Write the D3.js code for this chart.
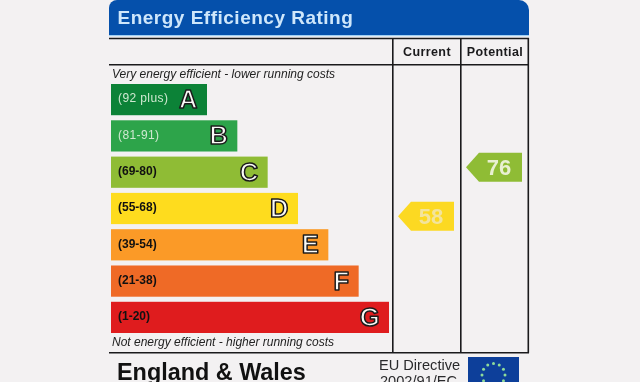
<!DOCTYPE html>
<html>
<head>
<meta charset="utf-8">
<script src="https://cdn.jsdelivr.net/npm/d3@7"></script>
<style>
html, body { margin: 0; padding: 0; background: #f3f1f2; overflow: hidden; }
text { font-family: "Liberation Sans", Arial, sans-serif; }
svg { filter: blur(0.35px); }
</style>
</head>
<body>
<div id="chart"></div>
<script>
var bands = ['A', 'B', 'C', 'D', 'E', 'F', 'G'];
var ranges = ['(92 plus)', '(81-91)', '(69-80)', '(55-68)', '(39-54)', '(21-38)', '(1-20)'];
var bandColors = ['#0c8237', '#2da44a', '#8fbc35', '#fedc1e', '#fb9a27', '#ef6a26', '#df1c1e'];
var rangeColors = ['#cfe8d0', '#cfe8d0', '#111', '#111', '#111', '#111', '#111'];
var columns = ['Current', 'Potential'];
var ratings = [58, 76];
var ratingColors = ['#fcd922', '#8fbc35'];
var ratingText = ['#f3e49c', '#e9f0d2'];

var width = 640, height = 382;

var svg = d3.select('#chart').append('svg')
    .attr('width', width)
    .attr('height', height)
    .style('display', 'block');

// scales
var y = d3.scaleBand().domain(bands).range([84, 333]).paddingInner(0.14).paddingOuter(0);
var barWidth = d3.scaleLinear().domain([0, bands.length - 1]).range([96, 278]);
var ratingY = d3.scaleLinear().domain([100, 0]).range([102, 374]);
var colX = d3.scaleBand().domain(columns).range([393, 529]);

///////////////////////////////////////////////////////////////
// header
///////////////////////////////////////////////////////////////
svg.append('path')
    .attr('d', 'M109,35V8a8,8 0 0 1 8,-8H519a10,10 0 0 1 10,10V35Z')
    .attr('fill', '#0550ab');
svg.append('rect').attr('x', 109).attr('y', 35).attr('width', 420).attr('height', 1.2).attr('fill', '#9fd0f5');

svg.append('text')
    .attr('x', 117.5)
    .attr('y', 23.5)
    .attr('font-size', 19)
    .attr('font-weight', 'bold')
    .attr('letter-spacing', 0.5)
    .attr('fill', '#cfe7fb')
    .text('Energy Efficiency Rating');

///////////////////////////////////////////////////////////////
// grid lines
///////////////////////////////////////////////////////////////
function line(x1, y1, x2, y2) {
    svg.append('line')
        .attr('x1', x1).attr('y1', y1).attr('x2', x2).attr('y2', y2)
        .attr('stroke', '#1a1a1c').attr('stroke-width', 1.6);
}
line(109, 38.5, 529, 38.5);
line(109, 64.7, 528, 64.7);
line(109, 352.7, 529, 352.7);
line(392.8, 38, 392.8, 353);
line(460.8, 38, 460.8, 353);
line(528.3, 38, 528.3, 353);

svg.selectAll('.col')
    .data(columns)
    .enter()
    .append('text')
    .attr('class', 'col')
    .attr('x', d => colX(d) + colX.bandwidth() / 2)
    .attr('y', 56)
    .attr('text-anchor', 'middle')
    .attr('font-size', 12.5)
    .attr('font-weight', 'bold')
    .attr('letter-spacing', 0.4)
    .attr('fill', '#1a1a1c')
    .text(d => d);

svg.append('text')
    .attr('x', 112).attr('y', 78)
    .attr('font-size', 12)
    .attr('font-style', 'italic')
    .attr('fill', '#222')
    .text('Very energy efficient - lower running costs');

svg.append('text')
    .attr('x', 112).attr('y', 346)
    .attr('font-size', 12)
    .attr('font-style', 'italic')
    .attr('fill', '#222')
    .text('Not energy efficient - higher running costs');

///////////////////////////////////////////////////////////////
// bars
///////////////////////////////////////////////////////////////
svg.selectAll('.bar')
    .data(bands)
    .enter()
    .append('rect')
    .attr('class', 'bar')
    .attr('x', 111)
    .attr('y', d => y(d))
    .attr('width', (d, i) => barWidth(i))
    .attr('height', y.bandwidth())
    .attr('fill', (d, i) => bandColors[i]);

svg.selectAll('.range')
    .data(ranges)
    .enter()
    .append('text')
    .attr('class', 'range')
    .attr('x', 118)
    .attr('y', (d, i) => y(bands[i]) + y.bandwidth() / 2 + 2.8)
    .attr('font-size', 12)
    .attr('font-weight', (d, i) => i < 2 ? 'normal' : 'bold')
    .attr('letter-spacing', (d, i) => i < 2 ? 0.4 : 0)
    .attr('fill', (d, i) => rangeColors[i])
    .text(d => d);

svg.selectAll('.letter')
    .data(bands)
    .enter()
    .append('text')
    .attr('class', 'letter')
    .attr('x', (d, i) => 111 + barWidth(i) - 9.5)
    .attr('y', d => y(d) + y.bandwidth() / 2 + 8.5)
    .attr('text-anchor', 'end')
    .attr('font-size', 25.5)
    .attr('font-weight', 'bold')
    .attr('fill', '#fafaf6')
    .attr('stroke', '#1a1a1a')
    .attr('stroke-width', 1.5)
    .attr('stroke-linejoin', 'round')
    .text(d => d);

///////////////////////////////////////////////////////////////
// rating arrows
///////////////////////////////////////////////////////////////
var arrows = svg.selectAll('.arrow')
    .data(ratings)
    .enter()
    .append('g')
    .attr('class', 'arrow')
    .attr('transform', (d, i) => 'translate(' + colX(columns[i]) + ',' + ratingY(d) + ')');

arrows.append('path')
    .attr('d', 'M5,0L18,-14.5H61V14.5H18Z')
    .attr('fill', (d, i) => ratingColors[i]);

arrows.append('text')
    .attr('x', 38)
    .attr('y', 8)
    .attr('text-anchor', 'middle')
    .attr('font-size', 22)
    .attr('font-weight', 'bold')
    .attr('fill', (d, i) => ratingText[i])
    .text(d => d);

///////////////////////////////////////////////////////////////
// footer
///////////////////////////////////////////////////////////////
svg.append('text')
    .attr('x', 117).attr('y', 380)
    .attr('font-size', 23.4)
    .attr('font-weight', 'bold')
    .attr('fill', '#111')
    .text('England & Wales');

svg.append('text')
    .attr('x', 379).attr('y', 370)
    .attr('font-size', 14.6)
    .attr('fill', '#2a2a2c')
    .text('EU Directive');

svg.append('text')
    .attr('x', 380).attr('y', 386)
    .attr('font-size', 14.6)
    .attr('fill', '#2a2a2c')
    .text('2002/91/EC');

svg.append('rect')
    .attr('x', 468).attr('y', 357).attr('width', 51).attr('height', 34)
    .attr('fill', '#0d3f9a');

var stars = d3.range(12);
svg.selectAll('.star')
    .data(stars)
    .enter()
    .append('circle')
    .attr('class', 'star')
    .attr('cx', d => 493.5 + 11.5 * Math.sin(d * Math.PI / 6))
    .attr('cy', d => 375 - 11.5 * Math.cos(d * Math.PI / 6))
    .attr('r', 1.5)
    .attr('fill', '#8fdc9a');
</script>
</body>
</html>
